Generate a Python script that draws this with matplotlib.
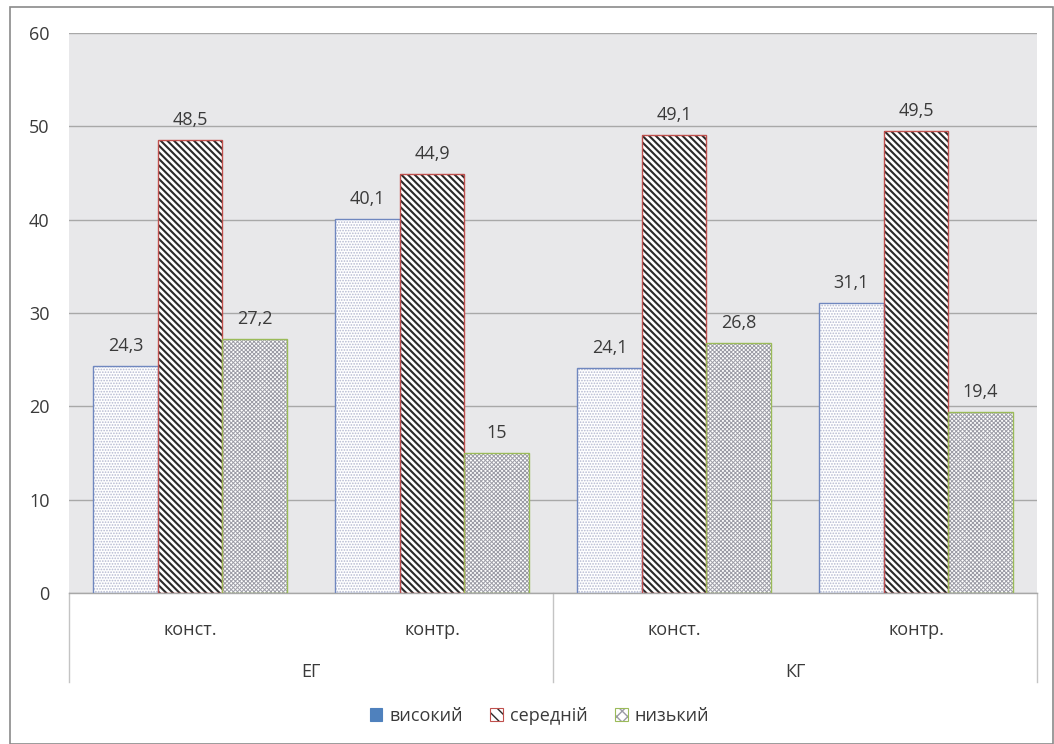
import matplotlib
matplotlib.use("Agg")
import matplotlib.pyplot as plt
from matplotlib.patches import Patch, Rectangle
from matplotlib.legend_handler import HandlerTuple
from matplotlib.transforms import blended_transform_factory
import numpy as np

plt.rcParams['font.family'] = ['Open Sans', 'DejaVu Sans']

# Data
groups = ['ЕГ', 'КГ']
stages = ['конст.', 'контр.']
series_names = ['високий', 'середній', 'низький']
high = [24.3, 40.1, 24.1, 31.1]
mid = [48.5, 44.9, 49.1, 49.5]
low = [27.2, 15.0, 26.8, 19.4]
yticks = [0, 10, 20, 30, 40, 50, 60]

text_color = '#3a3a3a'
grid_color = '#a8a8a8'
fs = 13

# series styles: (fill, hatch, hatch colour, border colour, hatch linewidth)
styles = [
    ('white', '......', '#b4b8d0', '#6f87bf', 0.8),
    ('white', '\\' * 5, '#2a2a2a', '#c0504d', 1.5),
    ('white', 'x' * 8, '#9c9ca6', '#9bbb59', 0.7),
]

fig = plt.figure(figsize=(10.54, 7.44), dpi=100)
ax = fig.add_axes([69 / 1054, 1 - 593 / 744, (1037 - 69) / 1054, (593 - 33) / 744])
ax.set_facecolor('#e8e8ea')

x = np.arange(len(high))
width = 0.267
values = [high, mid, low]
offsets = [-width, 0, width]

for vals, off, (fc, hatch, hc, ec, hlw) in zip(values, offsets, styles):
    with plt.rc_context({'hatch.linewidth': hlw}):
        bars = ax.bar(x + off, vals, width, color=fc, edgecolor=hc, linewidth=0,
                      hatch=hatch, zorder=2)
        for b in bars:
            if hasattr(b, 'set_hatch_linewidth'):
                b.set_hatch_linewidth(hlw)
    ax.bar(x + off, vals, width, fill=False, edgecolor=ec, linewidth=1.0, zorder=3)
    for xi, v in zip(x + off, vals):
        ax.annotate(f"{v:g}".replace('.', ','), (xi, v), xytext=(0, 8),
                    textcoords='offset points', ha='center', va='bottom',
                    fontsize=fs, color=text_color)

ax.set_xlim(-0.5, len(high) - 0.5)
ax.set_ylim(0, 60)
ax.set_yticks(yticks)
ax.set_yticklabels([str(t) for t in yticks], fontsize=fs, color=text_color)
ax.tick_params(axis='y', length=0, pad=14)
ax.yaxis.grid(True, color=grid_color, linewidth=1.0)
ax.set_axisbelow(True)
ax.set_xticks([])
for side in ['left', 'right', 'top']:
    ax.spines[side].set_visible(False)
ax.spines['bottom'].set_color(grid_color)
ax.spines['bottom'].set_linewidth(1.0)

# Two-level category axis
trans = blended_transform_factory(ax.transData, ax.transAxes)
for i in range(len(high)):
    ax.text(i, -0.066, stages[i % 2], transform=trans, ha='center', va='center',
            fontsize=fs, color=text_color)
for g, name in enumerate(groups):
    ax.text(2 * g + 0.5, -0.141, name, transform=trans, ha='center', va='center',
            fontsize=fs, color=text_color)
for xs in [-0.5, 1.5, 3.5]:
    ax.plot([xs, xs], [0, -0.159], transform=trans, color='#c4c4c4',
            linewidth=1.0, clip_on=False)

# Legend
handles = []
for i, (fc, hatch, hc, ec, hlw) in enumerate(styles):
    if i == 0:
        handles.append(Patch(facecolor='#4f81bd', edgecolor='#4f81bd', linewidth=0.8))
    else:
        handles.append((Patch(facecolor='white', edgecolor=hc, hatch=hatch[:3], linewidth=0),
                        Patch(fill=False, edgecolor=ec, linewidth=0.8)))
fig.legend(handles, series_names, loc='center', bbox_to_anchor=(0.512, 1 - 716 / 744),
           ncol=3, frameon=False, fontsize=fs, labelcolor=text_color,
           handlelength=0.7, handleheight=0.7, handletextpad=0.4, columnspacing=1.5,
           handler_map={tuple: HandlerTuple(ndivide=1, pad=0)})

# Outer chart border
fig.patches.append(Rectangle((10 / 1054, 0.5 / 744), (1053 - 10) / 1054, (737 - 0.5) / 744,
                             transform=fig.transFigure, fill=False,
                             edgecolor='#8a8a8a', linewidth=1.2))

fig.savefig('out.png', dpi=100)
